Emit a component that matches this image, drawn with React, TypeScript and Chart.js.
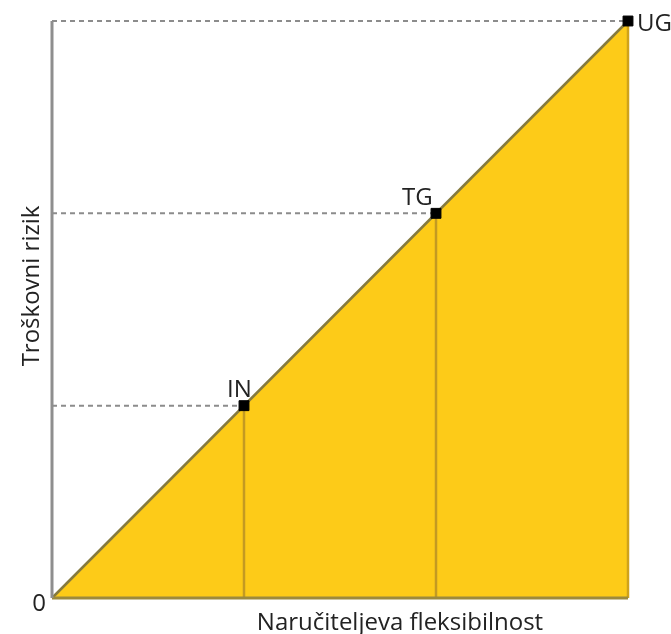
import React, { useEffect, useRef } from "react";
import { Chart, registerables } from "chart.js";

Chart.register(...registerables);

// ---- data ----
const pointLabels = ["IN", "TG", "UG"];
const flexValues = [1, 2, 3];
const riskValues = [1, 2, 3];
const axisMin = 0;
const axisMax = 3;
const originLabel = "0";
const xTitle = "Naručiteljeva fleksibilnost";
const yTitle = "Troškovni rizik";

// ---- styling / layout ----
const FONT = "24px 'Open Sans', sans-serif";
const TEXT_COLOR = "#222222";
const labelOffsets = [
  { dx: -17, dy: -9 },
  { dx: -34, dy: -8 },
  { dx: 9, dy: 10 },
];

const textPlugin = {
  id: "texts",
  afterDraw(chart: any) {
    const { ctx, scales } = chart;
    const xs = scales.x;
    const ys = scales.y;
    ctx.save();
    ctx.font = FONT;
    ctx.fillStyle = TEXT_COLOR;
    pointLabels.forEach((lab, i) => {
      const px = xs.getPixelForValue(flexValues[i]);
      const py = ys.getPixelForValue(riskValues[i]);
      const o = labelOffsets[i];
      ctx.textAlign = "left";
      ctx.textBaseline = "alphabetic";
      ctx.fillText(lab, px + o.dx, py + o.dy);
    });
    const ox = xs.getPixelForValue(axisMin);
    const oy = ys.getPixelForValue(axisMin);
    ctx.textAlign = "center";
    ctx.textBaseline = "alphabetic";
    ctx.fillText(originLabel, ox - 13, oy + 13);
    ctx.fillText(xTitle, 400, 630);
    ctx.translate(39, 286);
    ctx.rotate(-Math.PI / 2);
    ctx.fillText(yTitle, 0, 0);
    ctx.restore();
  },
};

export default function App() {
  const ref = useRef<HTMLCanvasElement | null>(null);
  useEffect(() => {
    if (!ref.current) return;
    const last = flexValues.length - 1;
    const datasets: any[] = [];
    datasets.push({
      data: [
        { x: axisMin, y: axisMin },
        { x: flexValues[last], y: riskValues[last] },
      ],
      showLine: true,
      fill: "origin",
      backgroundColor: "#FDCB18",
      borderColor: "#857A3E",
      borderWidth: 2.5,
      pointRadius: 0,
      order: 6,
      clip: false,
    });
    flexValues.forEach((v, i) => {
      datasets.push({
        data: [
          { x: v, y: axisMin },
          { x: v, y: riskValues[i] },
        ],
        showLine: true,
        borderColor: i === last ? "#CFA21A" : "#C39A22",
        borderWidth: 2.5,
        pointRadius: 0,
        order: 5,
        clip: false,
      });
    });
    datasets.push({
      data: [
        { x: axisMin, y: axisMin },
        { x: axisMax, y: axisMin },
      ],
      showLine: true,
      borderColor: "#9C8A3C",
      borderWidth: 3,
      pointRadius: 0,
      order: 4,
      clip: false,
    });
    flexValues.forEach((v, i) => {
      datasets.push({
        data: [
          { x: axisMin, y: riskValues[i] },
          { x: v, y: riskValues[i] },
        ],
        showLine: true,
        borderColor: "#8C8C8C",
        borderWidth: 2,
        borderDash: [5, 4],
        pointRadius: 0,
        order: 3,
        clip: false,
      });
    });
    datasets.push({
      data: [
        { x: axisMin, y: axisMin },
        { x: axisMin, y: axisMax },
      ],
      showLine: true,
      borderColor: "#8E8E8E",
      borderWidth: 3,
      pointRadius: 0,
      order: 2,
      clip: false,
    });
    datasets.push({
      data: flexValues.map((v, i) => ({ x: v, y: riskValues[i] })),
      showLine: false,
      pointStyle: "rect",
      pointRadius: 7,
      pointBackgroundColor: "#000000",
      pointBorderColor: "#000000",
      pointBorderWidth: 1,
      order: 1,
      clip: false,
    });

    const chart = new Chart(ref.current, {
      type: "scatter",
      data: { datasets },
      options: {
        animation: false,
        responsive: false,
        maintainAspectRatio: false,
        layout: { padding: { left: 52, top: 21, right: 43, bottom: 36 } },
        scales: {
          x: { type: "linear", min: axisMin, max: axisMax, display: false },
          y: { type: "linear", min: axisMin, max: axisMax, display: false },
        },
        plugins: {
          legend: { display: false },
          tooltip: { enabled: false },
        },
      },
      plugins: [textPlugin],
    } as any);
    return () => chart.destroy();
  }, []);

  return (
    <div style={{ position: "fixed", left: 0, top: 0, width: 671, height: 634, background: "#ffffff" }}>
      <canvas ref={ref} width={671} height={634} style={{ width: 671, height: 634 }} />
    </div>
  );
}
